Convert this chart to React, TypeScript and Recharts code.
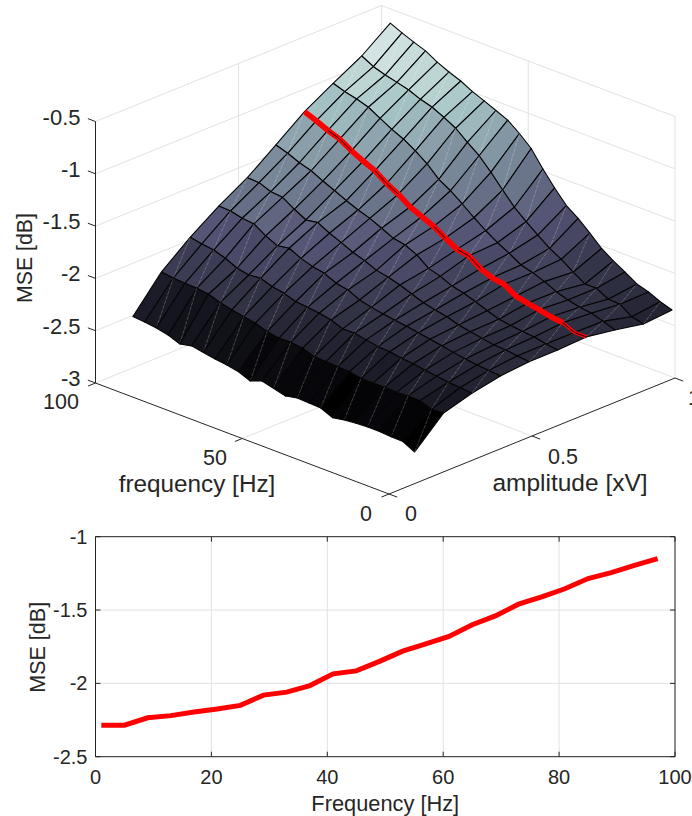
import React from 'react';
import {
  ScatterChart, Scatter, XAxis, YAxis, LineChart, Line, CartesianGrid, ReferenceLine,
} from 'recharts';

// ---------- data ----------
const frequencies = [1,5,9,13,17,21,25,29,33,37,41,45,49,53,57,61,65,69,73,77,81,85,89,93,97];
const amplitudes = [0.1,0.2,0.3,0.4,0.5,0.6,0.7,0.8,0.9,1.0];

const amp01 = [-2.72,-2.662,-2.66,-2.651,-2.651,-2.656,-2.669,-2.689,-2.639,-2.634,-2.628,-2.652,-2.622,-2.593,-2.635,-2.589,-2.568,-2.553,-2.532,-2.512,-2.536,-2.493,-2.468,-2.453,-2.443];
const amp02 = [-2.461,-2.465,-2.425,-2.422,-2.433,-2.424,-2.429,-2.424,-2.403,-2.398,-2.392,-2.386,-2.349,-2.334,-2.338,-2.317,-2.279,-2.259,-2.237,-2.21,-2.172,-2.157,-2.152,-2.146,-2.128];
const amp03 = [-2.38,-2.37,-2.36,-2.345,-2.33,-2.31,-2.30,-2.28,-2.274,-2.252,-2.231,-2.232,-2.189,-2.167,-2.153,-2.142,-2.104,-2.083,-2.045,-2.056,-2.034,-1.981,-1.945,-1.929,-1.908];
const amp04 = [-2.326,-2.315,-2.306,-2.29,-2.27,-2.25,-2.23,-2.21,-2.19,-2.175,-2.158,-2.137,-2.109,-2.055,-2.034,-1.981,-1.96,-1.923,-1.869,-1.888,-1.836,-1.764,-1.752,-1.725,-1.72];
const amp05 = [-2.30,-2.288,-2.273,-2.268,-2.247,-2.226,-2.204,-2.167,-2.145,-2.119,-2.077,-2.034,-2.003,-1.979,-1.929,-1.893,-1.841,-1.794,-1.735,-1.752,-1.692,-1.62,-1.609,-1.565,-1.56];
const amp06 = [-2.30,-2.285,-2.26,-2.25,-2.235,-2.218,-2.179,-2.135,-2.097,-2.07,-2.02,-1.986,-1.90,-1.847,-1.826,-1.772,-1.72,-1.683,-1.636,-1.583,-1.533,-1.477,-1.443,-1.395,-1.358];
const amp07 = [-2.285,-2.285,-2.235,-2.22,-2.195,-2.175,-2.15,-2.08,-2.06,-2.015,-1.935,-1.915,-1.85,-1.78,-1.73,-1.68,-1.60,-1.54,-1.46,-1.41,-1.355,-1.285,-1.245,-1.195,-1.15];
const amp08 = [-2.33,-2.29,-2.255,-2.24,-2.213,-2.176,-2.122,-2.079,-2.048,-1.979,-1.92,-1.848,-1.766,-1.677,-1.593,-1.526,-1.42,-1.34,-1.27,-1.218,-1.155,-1.092,-1.056,-1.028,-0.99];
const amp09 = [-2.383,-2.357,-2.28,-2.274,-2.212,-2.213,-2.143,-2.062,-2.0,-1.915,-1.83,-1.734,-1.612,-1.485,-1.369,-1.283,-1.191,-1.129,-1.075,-1.042,-0.995,-0.965,-0.937,-0.90,-0.84];
const amp10 = [-2.36,-2.324,-2.273,-2.239,-2.168,-2.104,-2.027,-1.922,-1.825,-1.744,-1.618,-1.48,-1.326,-1.225,-1.139,-1.09,-1.041,-0.994,-0.935,-0.892,-0.839,-0.775,-0.733,-0.688,-0.636];
const surfaceRows = [amp01,amp02,amp03,amp04,amp05,amp06,amp07,amp08,amp09,amp10];

const zTicks = [-3,-2.5,-2,-1.5,-1,-0.5];
const freqTicks3d = [0,50,100];
const ampTicks3d = [0,0.5,1];
const seamOnRed = [[89,85],[85,81],[73,69],[69,65],[53,49],[45,41],[41,37],[9,5],[5,1]];

const lowerFreqTicks = [0,20,40,60,80,100];
const lowerMseTicks = [-2.5,-2,-1.5,-1];

// ---------- view of the 3-D box ----------
const W = 692, H_TOP = 525, H_BOTTOM = 291;
const INK = '#262626', GRID = '#e2e2e2';
const FONT = '"Liberation Sans", Arial, sans-serif';
const origin = { x: 389, y: 494 };
const perHz = { x: -2.935, y: -1.11 };
const perAmp = { x: 286, y: -116 };
const perDb = -104.6;

type P = { x: number; y: number };
const project = (f: number, a: number, z: number): P => ({
  x: origin.x + perHz.x * f + perAmp.x * a,
  y: origin.y + perHz.y * f + perAmp.y * a + perDb * (z + 3),
});

// MATLAB's "bone" colour map, 64 steps
const bone = (value: number, lo: number, hi: number) => {
  const t = Math.floor(Math.min(0.9999, Math.max(0, (value - lo) / (hi - lo))) * 64) / 63;
  const ramp = (s: number, e: number) => Math.min(1, Math.max(0, (t - s) / (e - s)));
  const hotR = 0.04 + 0.96 * ramp(0, 0.365);
  const hotG = ramp(0.365, 0.746);
  const hotB = ramp(0.746, 1);
  const c = (h: number) => Math.round(255 * (7 * t + h) / 8);
  return `rgb(${c(hotB)},${c(hotG)},${c(hotR)})`;
};

const allZ = surfaceRows.flat();
const zLo = Math.min(...allZ), zHi = Math.max(...allZ);

const cells: any[] = [];
for (let j = amplitudes.length - 2; j >= 0; j--) {
  for (let i = frequencies.length - 2; i >= 0; i--) {
    const c00 = project(frequencies[i], amplitudes[j], surfaceRows[j][i]);
    const c10 = project(frequencies[i + 1], amplitudes[j], surfaceRows[j][i + 1]);
    const c11 = project(frequencies[i + 1], amplitudes[j + 1], surfaceRows[j + 1][i + 1]);
    const c01 = project(frequencies[i], amplitudes[j + 1], surfaceRows[j + 1][i]);
    cells.push({
      x: c00.x, y: c00.y,
      corners: [c00, c10, c11, c01],
      fill: bone(surfaceRows[j][i], zLo, zHi),
      seam: (i + j) % 2 === 0,
    });
  }
}

const kx = 1, ky = 1; // the hidden axes below run one unit per pixel

const CellShape = (props: any) => {
  const { cx, cy, payload } = props;
  const pts: P[] = payload.corners.map((c: P) => ({
    x: cx + (c.x - payload.x) * kx,
    y: cy + (c.y - payload.y) * ky,
  }));
  return (
    <g>
      <polygon
        points={pts.map((p) => `${p.x},${p.y}`).join(' ')}
        fill={payload.fill}
        stroke="#050505"
        strokeWidth={1.1}
        strokeLinejoin="round"
      />
      {payload.seam && (
        <line x1={pts[0].x} y1={pts[0].y} x2={pts[2].x} y2={pts[2].y}
          stroke="#ffffff" strokeOpacity={0.33} strokeWidth={0.7} strokeDasharray="4 1" />
      )}
    </g>
  );
};

const TextShape = (props: any) => {
  const { cx, cy, payload } = props;
  return (
    <text
      x={cx} y={cy}
      textAnchor={payload.anchor}
      dominantBaseline="central"
      fontFamily={FONT}
      fontSize={payload.size}
      fill={INK}
      transform={payload.rotate ? `rotate(${payload.rotate} ${cx} ${cy})` : undefined}
    >{payload.text}</text>
  );
};
const NoMark = () => null;

const seg = (a: P, b: P) => [a, b];

// back walls and floor
const gridSegments: P[][] = [
  ...zTicks.map((z) => seg(project(100, 0, z), project(100, 1, z))),
  ...zTicks.map((z) => seg(project(100, 1, z), project(0, 1, z))),
  seg(project(100, 0.5, -3), project(100, 0.5, -0.5)),
  seg(project(50, 1, -3), project(50, 1, -0.5)),
  seg(project(100, 1, -3), project(100, 1, -0.5)),
  seg(project(0, 1, -3), project(0, 1, -0.5)),
  seg(project(50, 0, -3), project(50, 1, -3)),
  seg(project(0, 0.5, -3), project(100, 0.5, -3)),
];

const axisSegments: P[][] = [
  seg(project(100, 0, -3), project(100, 0, -0.5)),
  seg(project(0, 0, -3), project(100, 0, -3)),
  seg(project(0, 0, -3), project(0, 1, -3)),
  ...zTicks.map((z) => seg(project(100, 0, z), project(102.6, 0, z))),
  ...freqTicks3d.map((f) => seg(project(f, 0, -3), project(f, -0.026, -3))),
  ...ampTicks3d.map((a) => seg(project(0, a, -3), project(-2.8, a, -3))),
];

const redAt = (i: number) => project(frequencies[i], 0.7, amp07[i]);
const redThick = frequencies.map((_, i) => i).filter((i) => frequencies[i] >= 9).map(redAt);
const redThin = frequencies.map((_, i) => i).filter((i) => frequencies[i] <= 9).map(redAt);
const redSeams: P[][] = seamOnRed.map(([a, b]) =>
  seg(redAt(frequencies.indexOf(a)), redAt(frequencies.indexOf(b))));

const labels3d = [
  ...zTicks.map((z) => ({ x: 80.5, y: project(100, 0, z).y - 4.5, text: String(z), anchor: 'end', size: 22 })),
  { x: 25, y: 258, text: 'MSE [dB]', anchor: 'middle', size: 21.3, rotate: -90 },
  { x: 61, y: 402, text: '100', anchor: 'middle', size: 21.5 },
  { x: 215, y: 458, text: '50', anchor: 'middle', size: 21.5 },
  { x: 366, y: 514, text: '0', anchor: 'middle', size: 21.5 },
  { x: 197, y: 483, text: 'frequency [Hz]', anchor: 'middle', size: 24.3 },
  { x: 411, y: 514, text: '0', anchor: 'middle', size: 21.5 },
  { x: 563, y: 457, text: '0.5', anchor: 'middle', size: 21.5 },
  { x: 688, y: 398, text: '1', anchor: 'start', size: 21.5 },
  { x: 570, y: 482, text: 'amplitude [xV]', anchor: 'middle', size: 24.5 },
];

const lowerData = frequencies.map((f, i) => ({ f, mse: amp07[i] }));

// frame and inward tick marks of the lower plot, in data units
const F_MIN = 0, F_MAX = 100, M_MIN = -2.5, M_MAX = -1;
const tickF = 0.85, tickM = 0.034;
const lowerFrame = [
  [{ x: F_MIN, y: M_MIN }, { x: F_MAX, y: M_MIN }],
  [{ x: F_MIN, y: M_MAX }, { x: F_MAX, y: M_MAX }],
  [{ x: F_MIN, y: M_MIN }, { x: F_MIN, y: M_MAX }],
  [{ x: F_MAX, y: M_MIN }, { x: F_MAX, y: M_MAX }],
  ...lowerFreqTicks.flatMap((f) => [
    [{ x: f, y: M_MIN }, { x: f, y: M_MIN + tickM }],
    [{ x: f, y: M_MAX }, { x: f, y: M_MAX - tickM }],
  ]),
  ...lowerMseTicks.flatMap((m) => [
    [{ x: F_MIN, y: m }, { x: F_MIN + tickF, y: m }],
    [{ x: F_MAX, y: m }, { x: F_MAX - tickF, y: m }],
  ]),
];

export default function App() {
  return (
    <div style={{ position: 'absolute', left: 0, top: 0, width: W, height: H_TOP + H_BOTTOM, background: '#fff', overflow: 'hidden' }}>
      <div style={{ position: 'absolute', left: 0, top: 0 }}>
        <ScatterChart width={W} height={H_TOP} margin={{ top: 0, right: 0, bottom: 0, left: 0 }}>
          <XAxis type="number" dataKey="x" domain={[0, W]} hide />
          <YAxis type="number" dataKey="y" domain={[0, H_TOP]} reversed hide />
          {gridSegments.map((d, i) => (
            <Scatter key={`g${i}`} data={d} shape={NoMark} line={{ stroke: GRID, strokeWidth: 1 }} isAnimationActive={false} />
          ))}
          {axisSegments.map((d, i) => (
            <Scatter key={`a${i}`} data={d} shape={NoMark} line={{ stroke: INK, strokeWidth: 1 }} isAnimationActive={false} />
          ))}
          <Scatter data={cells} shape={CellShape} isAnimationActive={false} />
          <Scatter data={redThick} shape={NoMark} line={{ stroke: '#ff0000', strokeWidth: 5.6 }} isAnimationActive={false} />
          <Scatter data={redThin} shape={NoMark} line={{ stroke: '#ff0000', strokeWidth: 3.6 }} isAnimationActive={false} />
          {redSeams.map((d, i) => (
            <Scatter key={`s${i}`} data={d} shape={NoMark} line={{ stroke: '#1a0000', strokeWidth: 1 }} isAnimationActive={false} />
          ))}
          <Scatter data={labels3d} shape={TextShape} isAnimationActive={false} />
        </ScatterChart>
      </div>
      <div style={{ position: 'absolute', left: 0, top: H_TOP }}>
        <LineChart width={W} height={H_BOTTOM} data={lowerData} margin={{ top: 11.7, right: 17, bottom: 0, left: 35.5 }}>
          <CartesianGrid stroke={GRID} strokeWidth={1} />
          <XAxis
            type="number" dataKey="f" domain={[F_MIN, F_MAX]} ticks={lowerFreqTicks} height={59.3}
            tick={{ fill: INK, fontSize: 20, fontFamily: FONT }} axisLine={false} tickLine={false} tickSize={0} tickMargin={13}
            interval={0}
            label={{ value: 'Frequency [Hz]', position: 'insideBottom', offset: 5, fill: INK, fontSize: 21.8, fontFamily: FONT }}
          />
          <YAxis
            type="number" domain={[M_MIN, M_MAX]} ticks={lowerMseTicks} width={60}
            tick={{ fill: INK, fontSize: 20, fontFamily: FONT }} axisLine={false} tickLine={false} tickSize={0} tickMargin={8}
            interval={0}
            label={{ value: 'MSE [dB]', angle: -90, position: 'insideLeft', offset: 2, dy: 46, fill: INK, fontSize: 21.5, fontFamily: FONT }}
          />
          <Line dataKey="mse" stroke="#ff0000" strokeWidth={5} dot={false} isAnimationActive={false} />
          {lowerFrame.map((s, i) => (
            <ReferenceLine key={i} segment={s} stroke={INK} strokeWidth={1} ifOverflow="visible" />
          ))}
        </LineChart>
      </div>
    </div>
  );
}
